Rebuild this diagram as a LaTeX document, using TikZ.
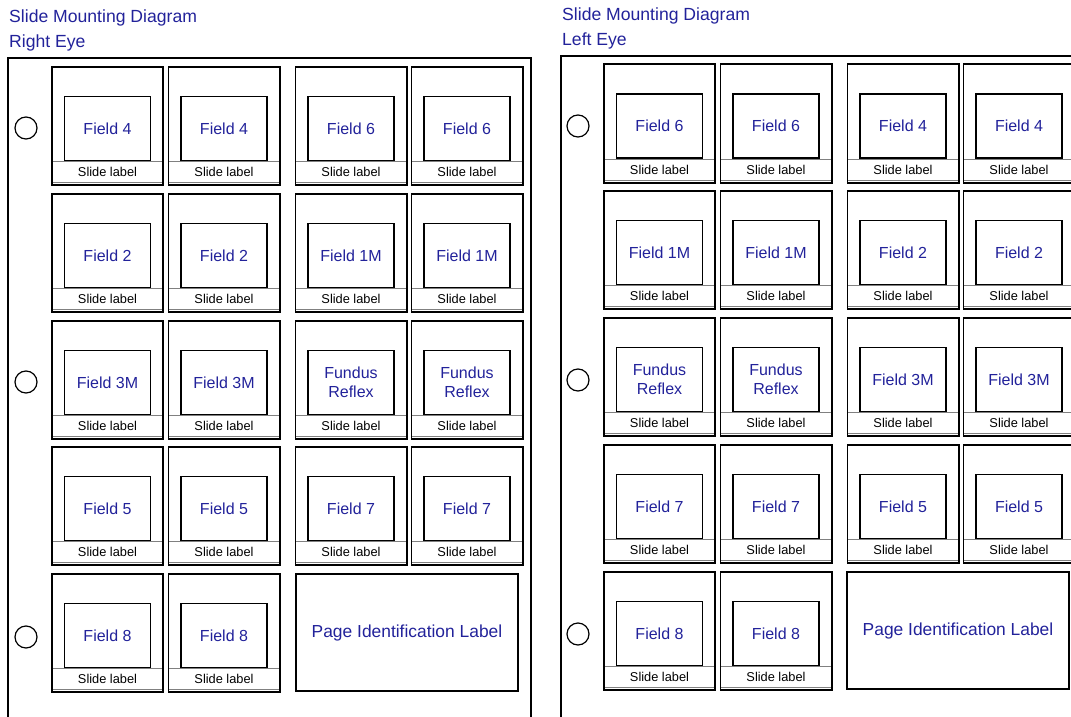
\documentclass[tikz,border=0pt]{standalone}
\usepackage{fontspec}
\setmainfont{Liberation Sans}
\usetikzlibrary{positioning}
\definecolor{labelBlue}{HTML}{22229A}

\begin{document}
\begin{tikzpicture}[
    x=1pt, y=-1pt,
    slide/.style={rectangle, minimum width=111pt, minimum height=118pt, inner sep=0pt},
    strip/.style={rectangle, draw=gray, line width=1.1pt, minimum width=111pt, minimum height=21pt,
        inner sep=0pt, font=\fontsize{12.8}{14}\selectfont},
    field/.style={rectangle, draw, line width=1.3pt, minimum width=86pt, minimum height=64pt,
        inner sep=0pt, align=center, text=labelBlue, font=\fontsize{16}{19}\selectfont},
    pageid/.style={rectangle, draw, line width=1.5pt, minimum width=222pt, minimum height=117pt,
        text=labelBlue, font=\fontsize{17.4}{20}\selectfont},
    hole/.style={circle, draw, line width=1.2pt, minimum size=22pt, inner sep=0pt},
    heading/.style={anchor=base west, inner sep=0pt, text=labelBlue, font=\fontsize{17.6}{21}\selectfont},
    box/.style={draw, line width=1.6pt},
    sheet/.style={draw, line width=1.5pt},
]

\useasboundingbox (0,0) rectangle (1071,717);
\clip (0,0) rectangle (1071,717);

% Headings
\node[heading] (Rtitle) at (9,23) {Slide Mounting Diagram};
\node[heading] (Reye) at (9,48) {Right Eye};
\node[heading] (Ltitle) at (562,21) {Slide Mounting Diagram};
\node[heading] (Leye) at (562,46) {Left Eye};

% Right eye sheet
\draw[sheet] (8,730) |- (531,58) -- (531,730);
\foreach \i/\y in {1/128, 3/382, 5/637}
  \node[hole] (Rhole\i) at (26,\y) {};
\foreach \r/\t/\a/\b in {1/67/Field 4/Field 6, 2/194/Field 2/Field 1M,
    3/321/Field 3M/{Fundus\\Reflex}, 4/447/Field 5/Field 7}
  \foreach \c/\x/\f in {1/107.5/\a, 2/224/\a, 3/351/\b, 4/467/\b} {
    \node[slide] (R\r\c) at (\x,\t+59) {};
    \node[strip, anchor=south] (R\r\c-l) at ([yshift=2pt]R\r\c.south) {Slide label};
    \node[field, anchor=south] (R\r\c-f) at (R\r\c-l.north) {\f};
    \draw[box] (R\r\c.north west) rectangle (R\r\c.south east);
  }
\foreach \c/\x in {1/107.5, 2/224} {
    \node[slide] (R5\c) at (\x,633) {};
    \node[strip, anchor=south] (R5\c-l) at ([yshift=2pt]R5\c.south) {Slide label};
    \node[field, anchor=south] (R5\c-f) at (R5\c-l.north) {Field 8};
    \draw[box] (R5\c.north west) rectangle (R5\c.south east);
  }
\node[pageid] (Rpage) at (407,632.5) {Page Identification Label};

% Left eye sheet
\draw[sheet] (561,730) |- (1090,56);
\foreach \i/\y in {1/126, 3/380, 5/634}
  \node[hole] (Lhole\i) at (578,\y) {};
\foreach \r/\t/\a/\b in {1/64.5/Field 6/Field 4, 2/191/Field 1M/Field 2,
    3/318/{Fundus\\Reflex}/Field 3M, 4/445/Field 7/Field 5}
  \foreach \c/\x/\f in {1/659.5/\a, 2/776/\a, 3/903/\b, 4/1019/\b} {
    \node[slide] (L\r\c) at (\x,\t+59) {};
    \node[strip, anchor=south] (L\r\c-l) at ([yshift=2pt]L\r\c.south) {Slide label};
    \node[field, anchor=south] (L\r\c-f) at (L\r\c-l.north) {\f};
    \draw[box] (L\r\c.north west) rectangle (L\r\c.south east);
  }
\foreach \c/\x in {1/659.5, 2/776} {
    \node[slide] (L5\c) at (\x,631) {};
    \node[strip, anchor=south] (L5\c-l) at ([yshift=2pt]L5\c.south) {Slide label};
    \node[field, anchor=south] (L5\c-f) at (L5\c-l.north) {Field 8};
    \draw[box] (L5\c.north west) rectangle (L5\c.south east);
  }
\node[pageid] (Lpage) at (958,630.5) {Page Identification Label};

\end{tikzpicture}
\end{document}
